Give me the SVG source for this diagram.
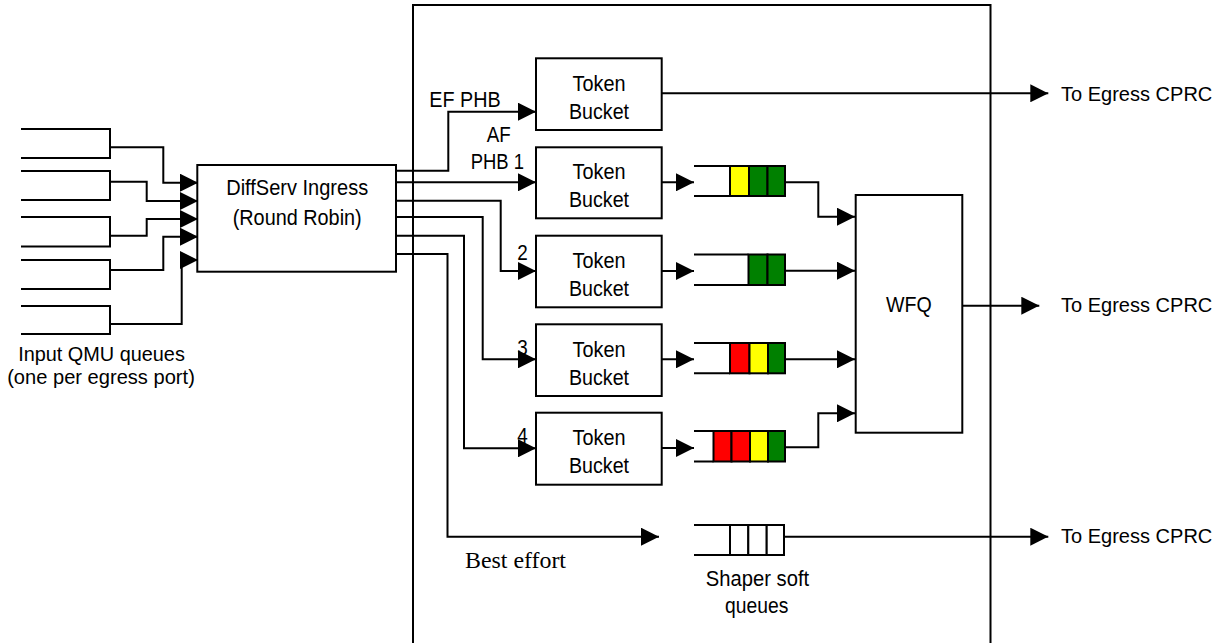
<svg xmlns="http://www.w3.org/2000/svg" width="1223" height="643" viewBox="0 0 1223 643">
<style>
.ln{fill:none;stroke:#000;stroke-width:2}
.bx{fill:#fff;stroke:#000;stroke-width:2}
.c{stroke:#000;stroke-width:2}
.t{font-family:"Liberation Sans",Arial,sans-serif;font-size:22px;fill:#000}
.u{font-family:"Liberation Sans",Arial,sans-serif;font-size:20px;fill:#000}
.s{font-family:"Liberation Serif","Times New Roman",serif;font-size:24px;fill:#000}
.y{fill:#ffff00}.g{fill:#008000}.r{fill:#ff0000}.w{fill:#fff}
</style>
<defs>
<marker id="ah" viewBox="0 0 18 18" refX="18" refY="9" markerWidth="18" markerHeight="18" markerUnits="userSpaceOnUse" orient="auto">
<path d="M0,0 L18,9 L0,18 z" fill="#000"/>
</marker>
</defs>
<g id="frame"><path class="ln" d="M413,643 V5 H990.5 V643"/></g>
<g id="input-queues">
<path class="ln" d="M21,129 H110 V158 H21"/>
<path class="ln" d="M21,171 H110 V200 H21"/>
<path class="ln" d="M21,217 H110 V246.5 H21"/>
<path class="ln" d="M21,260 H110 V289 H21"/>
<path class="ln" d="M21,306 H110 V334 H21"/>
<text class="u" x="101.5" y="361" text-anchor="middle" textLength="166.7" lengthAdjust="spacingAndGlyphs">Input QMU queues</text>
<text class="u" x="101" y="383.5" text-anchor="middle" textLength="187.7" lengthAdjust="spacingAndGlyphs">(one per egress port)</text>
</g>
<g id="diffserv">
<rect class="bx" x="197.3" y="165" width="198.7" height="106.7"/>
<text class="t" x="297.2" y="195" text-anchor="middle" textLength="142" lengthAdjust="spacingAndGlyphs">DiffServ Ingress</text>
<text class="t" x="297.2" y="225" text-anchor="middle" textLength="129" lengthAdjust="spacingAndGlyphs">(Round Robin)</text>
</g>
<g id="tb-ef"><rect class="bx" x="536" y="58.3" width="125.7" height="71.7"/>
<text class="t" x="599" y="90.5" text-anchor="middle" textLength="53" lengthAdjust="spacingAndGlyphs">Token</text>
<text class="t" x="599" y="119" text-anchor="middle" textLength="60" lengthAdjust="spacingAndGlyphs">Bucket</text></g>
<g id="tb-af1"><rect class="bx" x="536" y="147.3" width="125.7" height="71"/>
<text class="t" x="599" y="179.3" text-anchor="middle" textLength="53" lengthAdjust="spacingAndGlyphs">Token</text>
<text class="t" x="599" y="207" text-anchor="middle" textLength="60" lengthAdjust="spacingAndGlyphs">Bucket</text></g>
<g id="tb-af2"><rect class="bx" x="536" y="235.7" width="125.7" height="71.6"/>
<text class="t" x="599" y="268" text-anchor="middle" textLength="53" lengthAdjust="spacingAndGlyphs">Token</text>
<text class="t" x="599" y="296" text-anchor="middle" textLength="60" lengthAdjust="spacingAndGlyphs">Bucket</text></g>
<g id="tb-af3"><rect class="bx" x="536" y="324.3" width="125.7" height="71.7"/>
<text class="t" x="599" y="356.5" text-anchor="middle" textLength="53" lengthAdjust="spacingAndGlyphs">Token</text>
<text class="t" x="599" y="384.5" text-anchor="middle" textLength="60" lengthAdjust="spacingAndGlyphs">Bucket</text></g>
<g id="tb-af4"><rect class="bx" x="536" y="412.7" width="125.7" height="72"/>
<text class="t" x="599" y="445" text-anchor="middle" textLength="53" lengthAdjust="spacingAndGlyphs">Token</text>
<text class="t" x="599" y="473" text-anchor="middle" textLength="60" lengthAdjust="spacingAndGlyphs">Bucket</text></g>
<g id="queue-1">
<path class="ln" d="M694,166 H730 M694,196 H730"/>
<rect class="c y" x="730" y="166" width="19" height="30"/><rect class="c g" x="749" y="166" width="18.5" height="30"/><rect class="c g" x="767.5" y="166" width="17.5" height="30"/>
</g>
<g id="queue-2">
<path class="ln" d="M694,254.5 H748.5 M694,285 H748.5"/>
<rect class="c g" x="748.5" y="254.5" width="19" height="30.5"/><rect class="c g" x="767.5" y="254.5" width="17.5" height="30.5"/>
</g>
<g id="queue-3">
<path class="ln" d="M694,343 H730 M694,373.3 H730"/>
<rect class="c r" x="730" y="343" width="19.5" height="30.3"/><rect class="c y" x="749.5" y="343" width="18.5" height="30.3"/><rect class="c g" x="768" y="343" width="17" height="30.3"/>
</g>
<g id="queue-4">
<path class="ln" d="M694,431 H713.5 M694,461.5 H713.5"/>
<rect class="c r" x="713.5" y="431" width="18" height="30.5"/><rect class="c r" x="731.5" y="431" width="18.5" height="30.5"/><rect class="c y" x="750" y="431" width="18" height="30.5"/><rect class="c g" x="768" y="431" width="17" height="30.5"/>
</g>
<g id="shaper-queue">
<path class="ln" d="M694,525 H784 M694,555 H784"/>
<rect class="c w" x="730" y="525" width="18.3" height="30"/><rect class="c w" x="748.3" y="525" width="18.4" height="30"/><rect class="c w" x="766.7" y="525" width="17.3" height="30"/>
<text class="t" x="757.5" y="586" text-anchor="middle" textLength="103.3" lengthAdjust="spacingAndGlyphs">Shaper soft</text>
<text class="t" x="756.7" y="613.3" text-anchor="middle" textLength="63.3" lengthAdjust="spacingAndGlyphs">queues</text>
</g>
<g id="wfq"><rect class="bx" x="855.7" y="195" width="106.6" height="237.7"/>
<text class="t" x="908.8" y="311.7" text-anchor="middle" textLength="45.7" lengthAdjust="spacingAndGlyphs">WFQ</text></g>
<g id="connectors">
<path class="ln" marker-end="url(#ah)" d="M110,147.3 H163.3 V182.7 H198"/>
<path class="ln" marker-end="url(#ah)" d="M110,181.7 H146.7 V201 H198"/>
<path class="ln" marker-end="url(#ah)" d="M110,235.7 H146.7 V219 H198"/>
<path class="ln" marker-end="url(#ah)" d="M110,270 H163.3 V236.7 H198"/>
<path class="ln" marker-end="url(#ah)" d="M110,324 H181.7 V260 H198"/>
<path class="ln" marker-end="url(#ah)" d="M396,170.7 H448.3 V111.7 H536"/>
<path class="ln" marker-end="url(#ah)" d="M396,182.3 H536"/>
<path class="ln" marker-end="url(#ah)" d="M396,200.7 H500.7 V271 H536"/>
<path class="ln" marker-end="url(#ah)" d="M396,217 H482.7 V359.3 H536"/>
<path class="ln" marker-end="url(#ah)" d="M396,235.7 H464 V448.3 H536"/>
<path class="ln" marker-end="url(#ah)" d="M396,254 H447.5 V536.7 H659"/>
<path class="ln" marker-end="url(#ah)" d="M661.7,93.3 H1048.3"/>
<path class="ln" marker-end="url(#ah)" d="M661.7,182.3 H694"/>
<path class="ln" marker-end="url(#ah)" d="M661.7,271 H694"/>
<path class="ln" marker-end="url(#ah)" d="M661.7,359.3 H694"/>
<path class="ln" marker-end="url(#ah)" d="M661.7,448 H694"/>
<path class="ln" marker-end="url(#ah)" d="M785,182.3 H818.3 V216.7 H855"/>
<path class="ln" marker-end="url(#ah)" d="M785,270.7 H855"/>
<path class="ln" marker-end="url(#ah)" d="M785,359.3 H855"/>
<path class="ln" marker-end="url(#ah)" d="M785,447.3 H818.3 V413.3 H855"/>
<path class="ln" marker-end="url(#ah)" d="M962.3,305.7 H1039.3"/>
<path class="ln" marker-end="url(#ah)" d="M784,536.7 H1048.3"/>
</g>
<g id="labels">
<text class="t" x="465" y="107.3" text-anchor="middle" textLength="71.4" lengthAdjust="spacingAndGlyphs">EF PHB</text>
<text class="t" x="498.7" y="141.7" text-anchor="middle" textLength="24" lengthAdjust="spacingAndGlyphs">AF</text>
<text class="t" x="497.3" y="169.3" text-anchor="middle" textLength="53.3" lengthAdjust="spacingAndGlyphs">PHB 1</text>
<text class="t" x="517.3" y="260" textLength="10.5" lengthAdjust="spacingAndGlyphs">2</text>
<text class="t" x="517.3" y="355" textLength="10.5" lengthAdjust="spacingAndGlyphs">3</text>
<text class="t" x="517.3" y="443.3" textLength="10.5" lengthAdjust="spacingAndGlyphs">4</text>
<text class="s" x="465" y="568.3" textLength="101" lengthAdjust="spacingAndGlyphs">Best effort</text>
<text class="u" x="1061" y="100.7" textLength="151.3" lengthAdjust="spacingAndGlyphs">To Egress CPRC</text>
<text class="u" x="1061" y="311.7" textLength="151.3" lengthAdjust="spacingAndGlyphs">To Egress CPRC</text>
<text class="u" x="1061" y="543.3" textLength="151.3" lengthAdjust="spacingAndGlyphs">To Egress CPRC</text>
</g>
</svg>
